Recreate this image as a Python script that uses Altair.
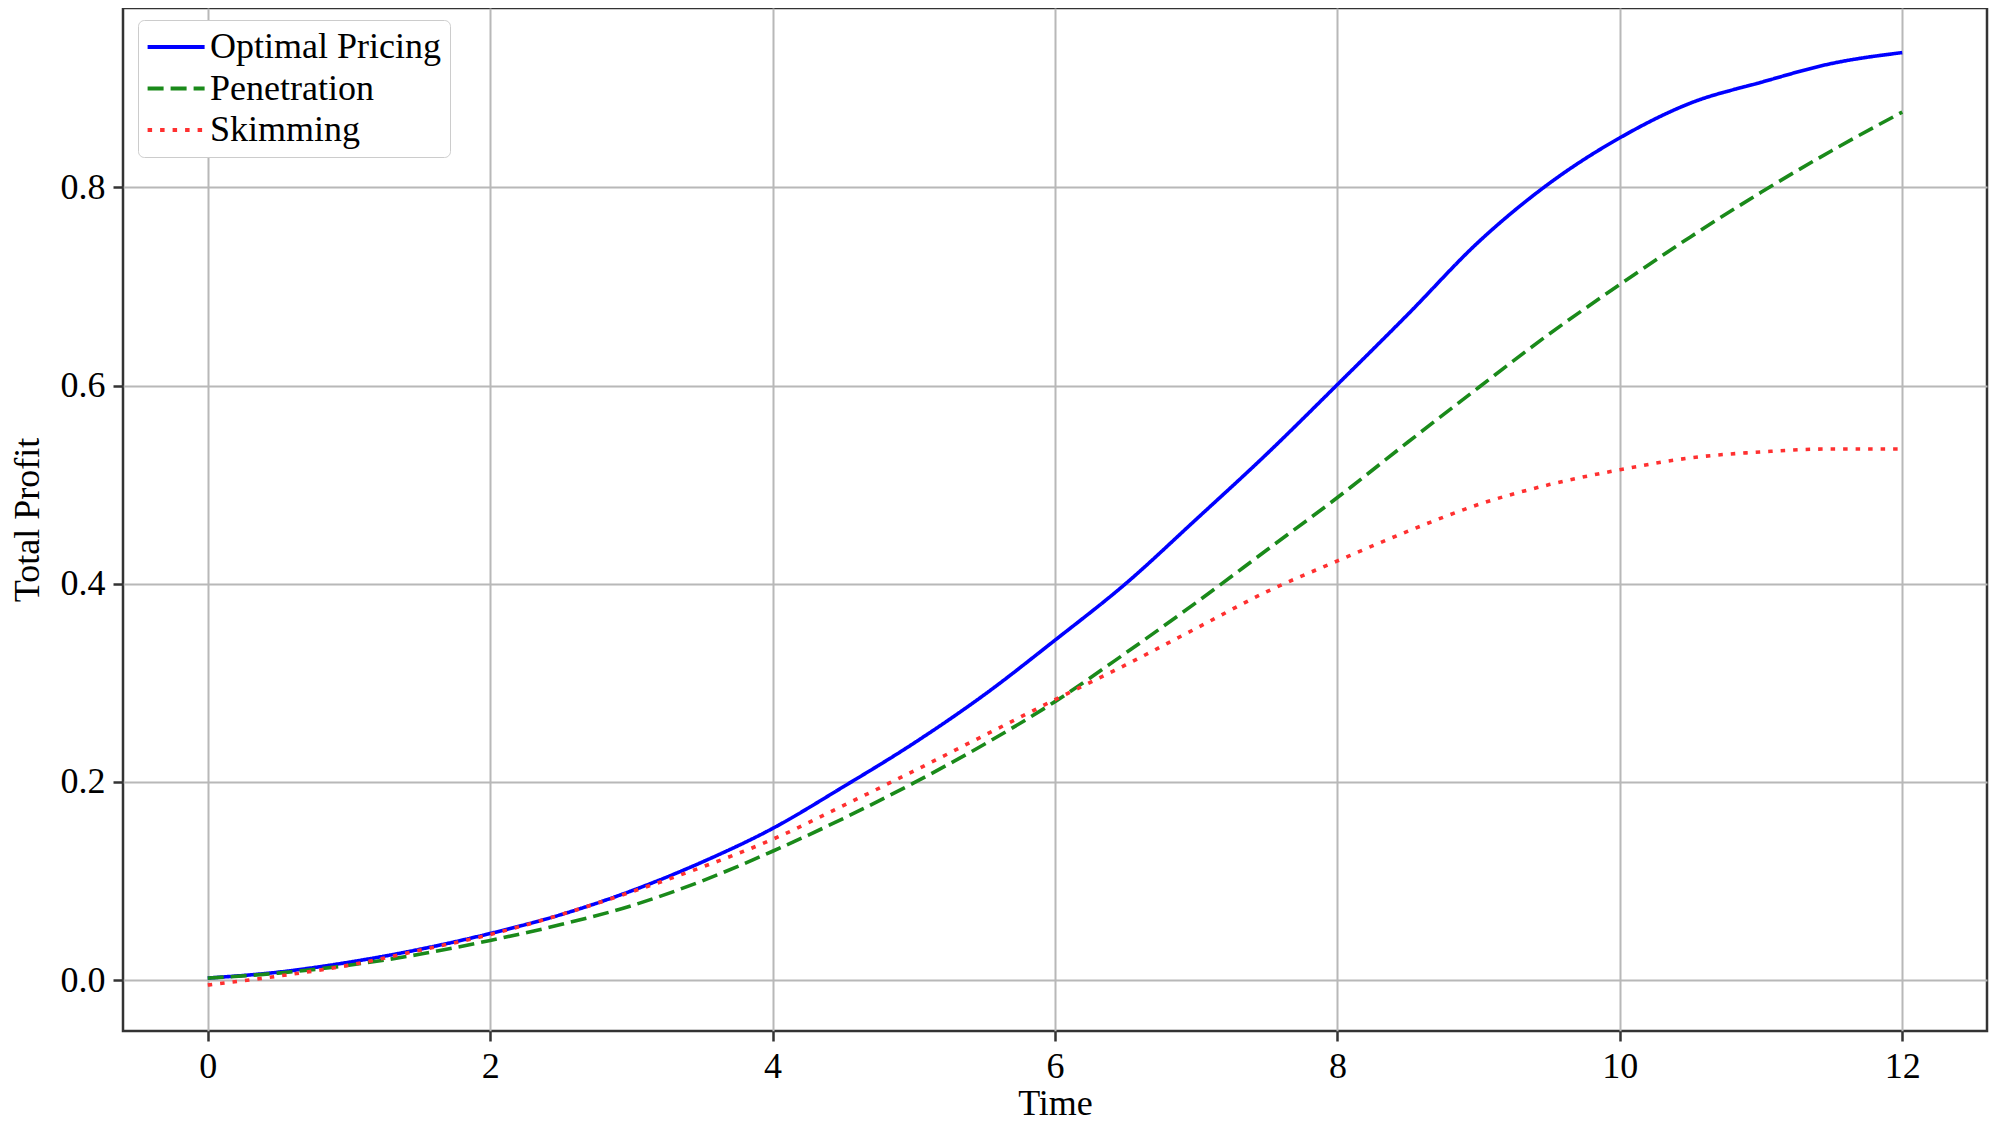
import altair as alt
import pandas as pd

# --- data ---
time = [0, 0.5, 1.0, 1.5, 2.0, 2.5, 3.0, 3.5, 4.0, 4.5, 5.0, 5.5, 6.0,
        6.5, 7.0, 7.5, 8.0, 8.5, 9.0, 9.5, 10.0, 10.5, 11.0, 11.5, 12.0]
optimal = [0.002, 0.008, 0.018, 0.031, 0.047, 0.066, 0.090, 0.119, 0.153, 0.195,
           0.239, 0.288, 0.343, 0.400, 0.465, 0.531, 0.601, 0.672, 0.745, 0.804,
           0.850, 0.885, 0.906, 0.925, 0.936]
penetration = [0.002, 0.007, 0.015, 0.026, 0.040, 0.056, 0.075, 0.100, 0.130, 0.163,
               0.199, 0.238, 0.281, 0.330, 0.381, 0.434, 0.487, 0.543, 0.598, 0.652,
               0.702, 0.750, 0.795, 0.837, 0.876]
skimming = [-0.005, 0.004, 0.015, 0.030, 0.046, 0.066, 0.089, 0.114, 0.142, 0.176,
            0.211, 0.247, 0.283, 0.318, 0.355, 0.392, 0.423, 0.453, 0.480, 0.500,
            0.515, 0.527, 0.533, 0.536, 0.536]

names = ["Optimal Pricing", "Penetration", "Skimming"]
colors = ["#0000ff", "#1a8a1a", "#ff3030"]
dashes = [[1, 0], [16, 7], [4.5, 8]]
x_ticks = [0, 2, 4, 6, 8, 10, 12]
y_ticks = [0.0, 0.2, 0.4, 0.6, 0.8]

rows = []
for name, vals in zip(names, [optimal, penetration, skimming]):
    for t, v in zip(time, vals):
        rows.append({"Time": t, "Profit": v, "Strategy": name})
df = pd.DataFrame(rows)

FONT = "Liberation Serif"

legend = alt.Legend(title=None, orient="none", legendX=15, legendY=12)

chart = alt.Chart(df).mark_line(strokeWidth=3.6, interpolate="monotone").encode(
    x=alt.X("Time:Q",
            scale=alt.Scale(domain=[-0.6, 12.6], nice=False, zero=False),
            axis=alt.Axis(values=x_ticks, format="d", title="Time")),
    y=alt.Y("Profit:Q",
            scale=alt.Scale(domain=[-0.0514, 0.981], nice=False, zero=False),
            axis=alt.Axis(values=y_ticks, format=".1f", title="Total Profit")),
    color=alt.Color("Strategy:N", scale=alt.Scale(domain=names, range=colors), legend=legend),
    strokeDash=alt.StrokeDash("Strategy:N", scale=alt.Scale(domain=names, range=dashes), legend=legend),
).properties(
    width=1864,
    height=1023,
    autosize=alt.AutoSizeParams(type="none"),
    padding={"left": 115, "top": 0, "right": 5, "bottom": 100},
    background="white",
).configure_view(
    stroke="#333333", strokeWidth=2.5
).configure_axis(
    domain=False,
    grid=True, gridColor="#b8b8b8", gridWidth=2,
    ticks=True, tickColor="#333333", tickSize=10, tickWidth=2.5,
    labelFont=FONT, labelFontSize=36, labelColor="#000000", labelPadding=8,
    titleFont=FONT, titleFontSize=36, titleFontWeight="normal", titleColor="#000000",
).configure_axisY(
    titlePadding=14
).configure_axisX(
    titlePadding=2
).configure_legend(
    labelFont=FONT, labelFontSize=36, labelColor="#000000", labelLimit=500,
    symbolType="M-1,0H4", symbolSize=520, symbolStrokeWidth=4, symbolOffset=-6,
    labelOffset=33, padding=9, rowPadding=5.5,
    strokeColor="#cccccc", fillColor="white", cornerRadius=6,
)

chart.save("out.html", embed_options={"renderer": "svg", "actions": False})
